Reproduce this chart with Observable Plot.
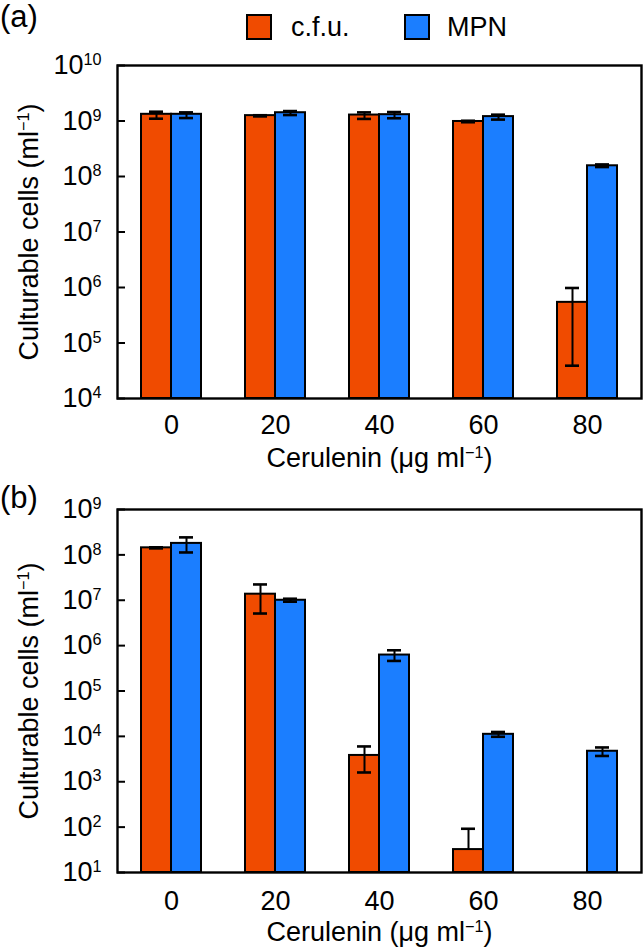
<!DOCTYPE html>
<html>
<head>
<meta charset="utf-8">
<script src="https://cdn.jsdelivr.net/npm/d3@7"></script>
<script src="https://cdn.jsdelivr.net/npm/@observablehq/plot@0.6"></script>
<style>
  html, body { margin: 0; padding: 0; background: #fff; }
  body { font-family: "Liberation Sans", Arial, Helvetica, sans-serif; color: #000; }
  #wrap { position: relative; width: 644px; height: 949px; overflow: hidden; }
  .plab { position: absolute; left: 0; font-size: 31px; line-height: 1; }
  #header { position: relative; height: 50px; }
  .sw { position: absolute; width: 22px; height: 22px; border: 2px solid #000; }
  .lt { position: absolute; font-size: 27px; line-height: 1; }
  #pb { position: relative; }
  svg { display: block; }
</style>
</head>
<body>
<div id="wrap">
  <div id="header">
    <div class="plab" style="top:1px">(a)</div>
    <div id="legend"></div>
  </div>
  <div id="pa"></div>
  <div id="pb"><div class="plab" style="top:2px">(b)</div></div>
</div>
<script>
// ---- data ----
const concentrations = ["0", "20", "40", "60", "80"];
const series = ["c.f.u.", "MPN"];
const colors = ["#F04B00", "#1B7EFF"];
const xLabel = "Cerulenin (μg ml⁻¹)";
const yLabel = "Culturable cells (ml⁻¹)";

// panel (a)
const cfuA    = [1.32e9, 1.25e9, 1.28e9, 0.98e9, 5.4e5];
const cfuALo  = [1.10e9, 1.21e9, 1.09e9, 0.95e9, 3.9e4];
const cfuAHi  = [1.47e9, 1.27e9, 1.43e9, 1.01e9, 9.8e5];
const mpnA    = [1.32e9, 1.41e9, 1.30e9, 1.20e9, 1.56e8];
const mpnALo  = [1.13e9, 1.28e9, 1.12e9, 1.06e9, 1.48e8];
const mpnAHi  = [1.43e9, 1.51e9, 1.45e9, 1.30e9, 1.65e8];
const ticksA  = [1e4, 1e5, 1e6, 1e7, 1e8, 1e9, 1e10];

// panel (b)
const cfuB    = [1.43e8, 1.36e7, 3.8e3, 32, null];
const cfuBLo  = [1.39e8, 5.1e6, 1.6e3, 32, null];
const cfuBHi  = [1.47e8, 2.23e7, 6.0e3, 92, null];
const mpnB    = [1.79e8, 1.0e7, 6.2e5, 1.11e4, 4.7e3];
const mpnBLo  = [1.13e8, 0.93e7, 4.6e5, 0.98e4, 3.7e3];
const mpnBHi  = [2.43e8, 1.08e7, 7.9e5, 1.25e4, 5.7e3];
const ticksB  = [1e1, 1e2, 1e3, 1e4, 1e5, 1e6, 1e7, 1e8, 1e9];

function buildRows(cfu, cfuLo, cfuHi, mpn, mpnLo, mpnHi) {
  const rows = [];
  concentrations.forEach((c, i) => {
    rows.push({conc: c, series: series[0], value: cfu[i], lo: cfuLo[i], hi: cfuHi[i]});
    rows.push({conc: c, series: series[1], value: mpn[i], lo: mpnLo[i], hi: mpnHi[i]});
  });
  return rows.filter(d => d.value != null);
}

const W = 644, ML = 117, MR = 3;
const INNER = W - ML - MR;
const BW = 60, HALF = BW / 2;

function panel(rows, ticks, height, marginTop, marginBottom, tickPad, labelOff) {
  const floor = ticks[0];
  const domain = [ticks[0], ticks[ticks.length - 1]];
  const marks = [];
  series.forEach((s, k) => {
    const sub = rows.filter(d => d.series === s);
    const left = k === 0;
    marks.push(Plot.barY(sub, {
      x: "conc", y1: () => floor, y2: "value",
      fill: colors[k], stroke: "#000", strokeWidth: 2,
      insetLeft: left ? 0 : HALF, insetRight: left ? HALF : 0
    }));
  });
  series.forEach((s, k) => {
    const sub = rows.filter(d => d.series === s);
    const left = k === 0;
    const off = left ? -HALF / 2 : HALF / 2;
    marks.push(Plot.ruleX(sub, {x: "conc", y1: "lo", y2: "hi", dx: off, stroke: "#000", strokeWidth: 2}));
    const capL = left ? 8 : HALF + 8, capR = left ? HALF + 8 : 8;
    marks.push(Plot.tickY(sub, {x: "conc", y: "hi", insetLeft: capL, insetRight: capR, stroke: "#000", strokeWidth: 2.6}));
    marks.push(Plot.tickY(sub.filter(d => d.lo < d.value), {x: "conc", y: "lo", insetLeft: capL, insetRight: capR, stroke: "#000", strokeWidth: 2.6}));
  });
  marks.push(Plot.ruleY(ticks, {y: d => d, insetRight: INNER - 8, stroke: "#000", strokeWidth: 2}));
  marks.push(Plot.frame({stroke: "#000", strokeWidth: 2.4}));
  marks.push(Plot.axisY({
    ticks, tickSize: 0, tickPadding: 16,
    tickFormat: d => "10^" + Math.round(Math.log10(d)),
    label: yLabel, labelAnchor: "center", labelOffset: labelOff.y, labelArrow: "none"
  }));
  marks.push(Plot.axisX({
    tickSize: 0, tickPadding: tickPad,
    label: xLabel, labelAnchor: "center", labelOffset: labelOff.x, labelArrow: "none"
  }));
  return Plot.plot({
    width: W, height, marginLeft: ML, marginRight: MR, marginTop, marginBottom,
    style: {fontFamily: "'Liberation Sans', Arial, Helvetica, sans-serif", fontSize: "27px", color: "#000", background: "#fff", overflow: "visible"},
    x: {domain: concentrations, paddingInner: 0.4275, paddingOuter: 0.21375},
    y: {type: "log", domain},
    marks
  });
}

function sup(el) {
  const txt = el.textContent;
  const ns = "http://www.w3.org/2000/svg";
  let m = txt.match(/^10\^(\d+)$/);
  if (m) {
    el.textContent = "10";
    const t = document.createElementNS(ns, "tspan");
    t.setAttribute("font-size", "0.6em");
    t.setAttribute("dy", "-0.55em");
    t.textContent = m[1];
    el.appendChild(t);
    return;
  }
  const i = txt.indexOf("⁻¹");
  if (i >= 0) {
    el.textContent = txt.slice(0, i);
    const t = document.createElementNS(ns, "tspan");
    t.setAttribute("font-size", "0.6em");
    t.setAttribute("dy", "-0.55em");
    t.textContent = "−1";
    el.appendChild(t);
    const r = document.createElementNS(ns, "tspan");
    r.setAttribute("dy", "0.33em");
    r.textContent = txt.slice(i + 2);
    el.appendChild(r);
  }
}

function fix(svg) {
  svg.querySelectorAll("text").forEach(sup);
  return svg;
}

const svgA = panel(buildRows(cfuA, cfuALo, cfuAHi, mpnA, mpnALo, mpnAHi), ticksA, 430, 15, 82, 16, {x: 68, y: 99});
const svgB = panel(buildRows(cfuB, cfuBLo, cfuBHi, mpnB, mpnBLo, mpnBHi), ticksB, 469, 29, 77, 18, {x: 68, y: 99});
document.getElementById("pa").appendChild(fix(svgA));
document.getElementById("pb").appendChild(fix(svgB));

// legend
const legend = document.getElementById("legend");
const swX = [246, 404], txtX = [291, 447];
series.forEach((s, k) => {
  const sw = document.createElement("div");
  sw.className = "sw";
  sw.style.left = swX[k] + "px";
  sw.style.top = "14px";
  sw.style.background = colors[k];
  legend.appendChild(sw);
  const t = document.createElement("div");
  t.className = "lt";
  t.style.left = txtX[k] + "px";
  t.style.top = "14px";
  t.textContent = s;
  legend.appendChild(t);
});
</script>
</body>
</html>
